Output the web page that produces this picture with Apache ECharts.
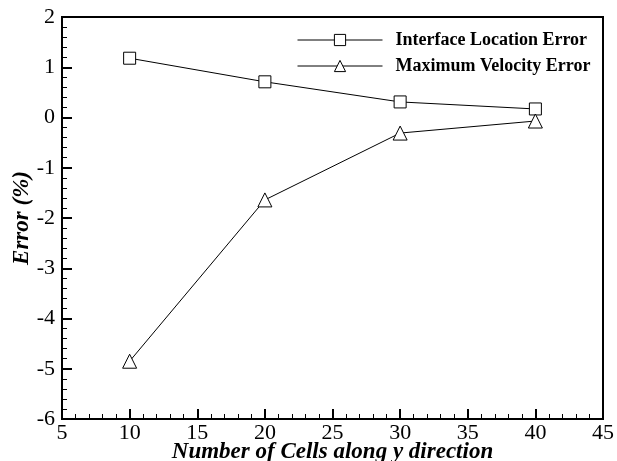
<!DOCTYPE html>
<html>
<head>
<meta charset="utf-8">
<script src="https://cdn.jsdelivr.net/npm/echarts@6/dist/echarts.min.js"></script>
<style>
  html, body { margin: 0; padding: 0; background: #fff; }
  #chart { width: 617px; height: 461px; }
</style>
</head>
<body>
<div id="chart"></div>
<script>
// values
const cells = [10, 20, 30, 40];
const interfaceError = [1.18, 0.71, 0.31, 0.17];
const velocityError = [-4.85, -1.64, -0.31, -0.07];

const serif = 'Liberation Serif';

const chart = echarts.init(document.getElementById('chart'));

const pairs = (xs, ys) => xs.map((x, i) => [x, ys[i]]);

const axisCommon = {
  axisLine: { onZero: false, lineStyle: { color: '#000', width: 2 } },
  axisTick: { inside: true, length: 10, lineStyle: { color: '#000', width: 2 } },
  minorTick: { show: true, splitNumber: 5, length: 5, lineStyle: { color: '#000', width: 1 } },
  splitLine: { show: false }
};

const nameStyle = {
  fontFamily: serif,
  fontWeight: 'bold',
  fontStyle: 'italic',
  fontSize: 23,
  color: '#000'
};

const option = {
  animation: false,
  grid: {
    left: 62,
    right: 14,
    top: 17,
    bottom: 42,
    outerBoundsMode: 'none',
    show: true,
    borderColor: '#000',
    borderWidth: 2
  },
  legend: {
    orient: 'vertical',
    left: 292,
    top: 26,
    itemWidth: 85,
    itemHeight: 14,
    itemGap: 8,
    itemStyle: { borderWidth: 1 },
    lineStyle: { width: 1 },
    textStyle: {
      fontFamily: serif,
      fontWeight: 'bold',
      fontSize: 18,
      color: '#000',
      padding: [0, 0, 0, 8]
    },
    data: ['Interface Location Error', 'Maximum Velocity Error']
  },
  xAxis: Object.assign({
    type: 'value',
    min: 5,
    max: 45,
    interval: 5,
    name: 'Number of Cells along y direction',
    nameLocation: 'middle',
    nameGap: 22,
    nameMoveOverlap: false,
    nameTextStyle: nameStyle,
    axisLabel: { fontFamily: serif, fontSize: 22, color: '#000', margin: 3 }
  }, axisCommon),
  yAxis: Object.assign({
    type: 'value',
    min: -6,
    max: 2,
    interval: 1,
    name: 'Error (%)',
    nameLocation: 'middle',
    nameGap: 28,
    nameMoveOverlap: false,
    nameTextStyle: nameStyle,
    axisLabel: { fontFamily: serif, fontSize: 22, color: '#000', margin: 7 }
  }, axisCommon),
  series: [
    {
      name: 'Interface Location Error',
      type: 'line',
      data: pairs(cells, interfaceError),
      symbol: 'rect',
      symbolSize: 12,
      itemStyle: { color: '#fff', borderColor: '#000', borderWidth: 1 },
      lineStyle: { color: '#000', width: 1 }
    },
    {
      name: 'Maximum Velocity Error',
      type: 'line',
      data: pairs(cells, velocityError),
      symbol: 'triangle',
      symbolSize: 14,
      itemStyle: { color: '#fff', borderColor: '#000', borderWidth: 1 },
      lineStyle: { color: '#000', width: 1 }
    }
  ]
};

chart.setOption(option);
</script>
</body>
</html>
